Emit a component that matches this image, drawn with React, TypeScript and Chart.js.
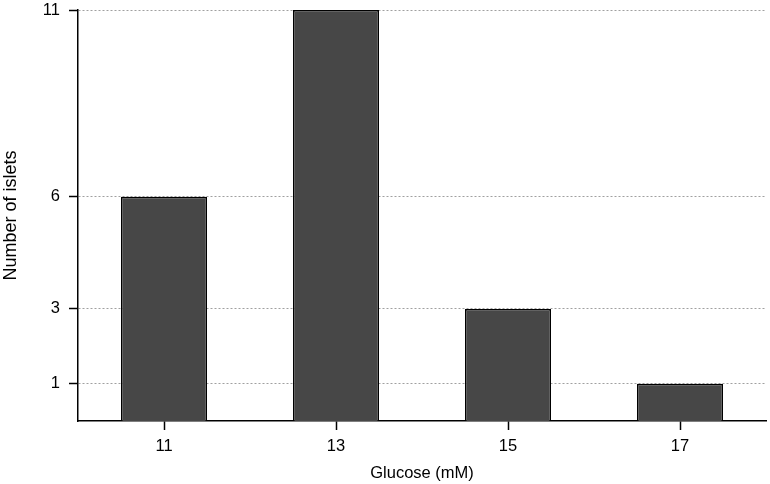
import React, { useEffect, useRef } from "react";
import { Chart, registerables } from "chart.js";

Chart.register(...registerables);

const categories = ["11", "13", "15", "17"];
const islets = [6, 11, 3, 1];
const yTicks = [1, 3, 6, 11];
const xTitle = "Glucose (mM)";
const yTitle = "Number of islets";

export default function App() {
  const ref = useRef<HTMLCanvasElement | null>(null);
  useEffect(() => {
    if (!ref.current) return;
    const family = "'Liberation Sans', Arial, Helvetica, sans-serif";
    const tickFont = { family, size: 16.5 };
    const xTitleFont = { family, size: 16.5 };
    const yTitleFont = { family, size: 18 };
    const chart = new Chart(ref.current, {
      type: "bar",
      data: {
        labels: categories,
        datasets: [
          {
            data: islets,
            backgroundColor: "#474747",
            borderColor: "#000000",
            borderWidth: 1.5,
            barPercentage: 0.5,
            categoryPercentage: 1,
          },
        ],
      },
      options: {
        responsive: false,
        animation: false,
        layout: { padding: { top: 10, right: 4, left: 0, bottom: 0 } },
        plugins: { legend: { display: false }, tooltip: { enabled: false } },
        scales: {
          x: {
            grid: {
              drawOnChartArea: false,
              drawTicks: true,
              tickLength: 9,
              tickColor: "#000",
              tickWidth: 1.5,
              offset: false,
            },
            border: { display: true, color: "#000", width: 1.5 },
            ticks: { color: "#000", font: tickFont, padding: 7, maxRotation: 0 },
            title: { display: true, text: xTitle, color: "#000", font: xTitleFont, padding: { top: 0, bottom: 1 } },
            afterFit: (s: any) => {
              s.height = 63;
              s.paddingLeft = 0;
              s.paddingRight = 0;
            },
          },
          y: {
            min: 0,
            max: 11,
            afterBuildTicks: (s: any) => {
              s.ticks = yTicks.map((v) => ({ value: v }));
            },
            grid: {
              color: "#a0a0a0",
              lineWidth: 1,
              drawTicks: true,
              tickLength: 9,
              tickColor: "#000",
              tickWidth: 1.5,
              tickBorderDash: [],
            },
            border: { display: true, color: "#000", width: 1.5, dash: [2, 2] },
            ticks: { color: "#000", font: tickFont, padding: 9 },
            title: { display: true, text: yTitle, color: "#000", font: yTitleFont, padding: { top: 0, bottom: 0 } },
            afterFit: (s: any) => {
              s.width = 78;
              s.paddingTop = 0;
              s.paddingBottom = 0;
            },
          },
        },
      },
    });
    return () => chart.destroy();
  }, []);
  return (
    <div style={{ position: "absolute", left: 0, top: 0, width: 770, height: 484, background: "#fff" }}>
      <canvas ref={ref} width={770} height={484} />
    </div>
  );
}
